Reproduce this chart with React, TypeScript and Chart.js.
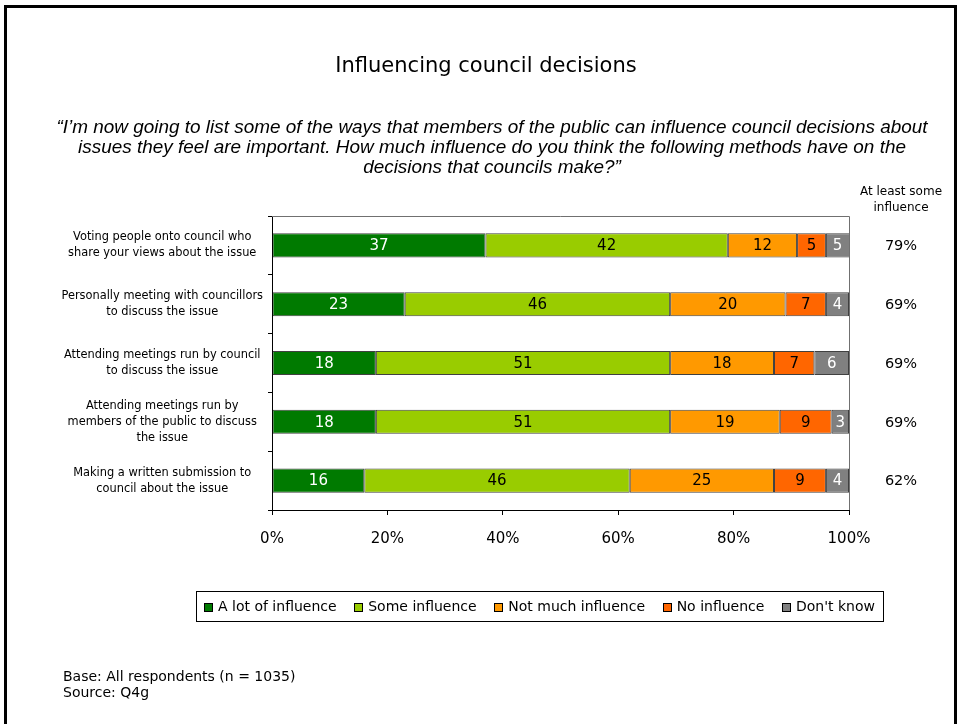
import React, { useEffect, useRef } from 'react';
import { Chart, registerables } from 'chart.js';

Chart.register(...registerables);

const chartTitle = 'Influencing council decisions';
const questionLines = [
  '\u201CI\u2019m now going to list some of the ways that members of the public can influence council decisions about',
  'issues they feel are important. How much influence do you think the following methods have on the',
  'decisions that councils make?\u201D',
];
const categories: string[][] = [
  ['Voting people onto council who', 'share your views about the issue'],
  ['Personally meeting with councillors', 'to discuss the issue'],
  ['Attending meetings run by council', 'to discuss the issue'],
  ['Attending meetings run by', 'members of the public to discuss', 'the issue'],
  ['Making a written submission to', 'council about the issue'],
];
const seriesNames = ['A lot of influence', 'Some influence', 'Not much influence', 'No influence', "Don't know"];
const aLotOfInfluence = [37, 23, 18, 18, 16];
const someInfluence = [42, 46, 51, 51, 46];
const notMuchInfluence = [12, 20, 18, 19, 25];
const noInfluence = [5, 7, 7, 9, 9];
const dontKnow = [5, 4, 6, 3, 4];
const atLeastSome = [79, 69, 69, 69, 62];
const atLeastHeader = ['At least some', 'influence'];
const xTickValues = [0, 20, 40, 60, 80, 100];
const footnotes = ['Base: All respondents (n = 1035)', 'Source: Q4g'];

const seriesColors = ['#007A00', '#99CC00', '#FF9900', '#FF6600', '#808080'];
const valueColors = ['#ffffff', '#000000', '#000000', '#000000', '#ffffff'];

const FONT = "'DejaVu Sans', Verdana, sans-serif";

const decorPlugin = {
  id: 'decor',
  afterDatasetsDraw(chart: any) {
    const ctx = chart.ctx as CanvasRenderingContext2D;
    const area = chart.chartArea;
    ctx.save();
    ctx.font = `15px ${FONT}`;
    ctx.textAlign = 'center';
    ctx.textBaseline = 'middle';
    chart.data.datasets.forEach((ds: any, i: number) => {
      const meta = chart.getDatasetMeta(i);
      meta.data.forEach((el: any, j: number) => {
        const p = el.getProps(['x', 'base', 'y'], true);
        const right = Math.min(p.x, area.right);
        const cx = (right + p.base) / 2;
        ctx.fillStyle = valueColors[i];
        ctx.fillText(String(ds.data[j]), cx, p.y + 1);
      });
    });
    ctx.restore();
  },
  afterDraw(chart: any) {
    const ctx = chart.ctx as CanvasRenderingContext2D;
    const area = chart.chartArea;
    ctx.save();

    // plot area top/right border
    ctx.strokeStyle = '#707070';
    ctx.lineWidth = 1;
    ctx.beginPath();
    ctx.moveTo(area.left, Math.round(area.top) + 0.5);
    ctx.lineTo(Math.round(area.right) + 0.5, Math.round(area.top) + 0.5);
    ctx.lineTo(Math.round(area.right) + 0.5, area.bottom);
    ctx.stroke();

    // frame
    ctx.strokeStyle = '#000';
    ctx.lineWidth = 3;
    ctx.strokeRect(5.5, 6.5, 950, 760);

    // title
    ctx.fillStyle = '#000';
    ctx.textAlign = 'center';
    ctx.textBaseline = 'middle';
    ctx.font = `21px ${FONT}`;
    ctx.fillText(chartTitle, 486, 67);

    // question (condensed italic)
    ctx.font = "italic 19px 'Liberation Sans', Arial, sans-serif";
    const w0 = ctx.measureText(questionLines[0]).width;
    const sx = 871 / w0;
    questionLines.forEach((line, k) => {
      ctx.save();
      ctx.translate(492, 128 + k * 20);
      ctx.scale(sx, 1);
      ctx.fillText(line, 0, 0);
      ctx.restore();
    });

    // at least some column
    const ys = chart.scales.y;
    ctx.font = `12px ${FONT}`;
    atLeastHeader.forEach((t, k) => ctx.fillText(t, 901, 192 + k * 16));
    ctx.font = `14.5px ${FONT}`;
    atLeastSome.forEach((v, j) => {
      ctx.fillText(`${v}%`, 901, ys.getPixelForValue(j) + 1);
    });

    // legend
    const lx0 = 196, ly0 = 591, lw = 687, lh = 30;
    ctx.lineWidth = 1;
    ctx.strokeStyle = '#000';
    ctx.strokeRect(lx0 + 0.5, ly0 + 0.5, lw, lh);
    ctx.font = `14px ${FONT}`;
    ctx.textAlign = 'left';
    const box = 9, gapBoxText = 5, inner = 8;
    const n = chart.data.datasets.length;
    const widths = chart.data.datasets.map((d: any) => ctx.measureText(d.label).width);
    const content = widths.reduce((a: number, b: number) => a + b, 0) + n * (box + gapBoxText);
    const gapItems = (lw - 2 * inner - content) / (n - 1);
    let x = lx0 + inner;
    const cy = ly0 + lh / 2 + 1;
    chart.data.datasets.forEach((d: any, i: number) => {
      ctx.fillStyle = d.backgroundColor;
      ctx.fillRect(Math.round(x), Math.round(cy - box / 2), box, box);
      ctx.strokeStyle = '#000';
      ctx.strokeRect(Math.round(x) + 0.5, Math.round(cy - box / 2) + 0.5, box - 1, box - 1);
      x += box + gapBoxText;
      ctx.fillStyle = '#000';
      ctx.fillText(d.label, x, cy);
      x += widths[i] + gapItems;
    });

    // footnotes
    ctx.font = `14px ${FONT}`;
    ctx.textAlign = 'left';
    footnotes.forEach((t, k) => ctx.fillText(t, 63, 677 + k * 16));

    ctx.restore();
  },
};

export default function App() {
  const ref = useRef<HTMLCanvasElement | null>(null);
  useEffect(() => {
    if (!ref.current) return;
    const series = [aLotOfInfluence, someInfluence, notMuchInfluence, noInfluence, dontKnow];
    const chart = new Chart(ref.current, {
      type: 'bar',
      data: {
        labels: categories,
        datasets: series.map((d, i) => ({
          label: seriesNames[i],
          data: d,
          backgroundColor: seriesColors[i],
          borderColor: 'rgba(0,0,0,0.75)',
          borderWidth: 1,
          borderSkipped: false,
          barPercentage: 0.41,
          categoryPercentage: 1,
        })),
      },
      options: {
        indexAxis: 'y',
        animation: false,
        responsive: false,
        devicePixelRatio: 1,
        layout: { padding: { left: 0, top: 216, right: 112, bottom: 174 } },
        plugins: {
          legend: { display: false },
          title: { display: false },
          tooltip: { enabled: false },
        },
        scales: {
          x: {
            stacked: true,
            min: 0,
            max: 100,
            afterBuildTicks: (s: any) => {
              s.ticks = xTickValues.map((v) => ({ value: v }));
            },
            afterFit: (s: any) => {
              s.height = 40;
            },
            ticks: {
              callback: (v: any) => `${v}%`,
              color: '#000',
              font: { family: FONT, size: 15 },
              padding: 15,
              maxRotation: 0,
            },
            grid: { drawOnChartArea: false, tickLength: 5, color: '#000' },
            border: { color: '#000', width: 1 },
          },
          y: {
            stacked: true,
            afterFit: (s: any) => {
              s.width = 272;
            },
            ticks: {
              color: '#000',
              crossAlign: 'center',
              padding: 5,
              font: { family: FONT, size: 11.4, lineHeight: 1.4 },
            },
            grid: { drawOnChartArea: false, offset: true, tickLength: 4, color: '#000' },
            border: { color: '#000', width: 1 },
          },
        },
      },
      plugins: [decorPlugin],
    } as any);
    return () => chart.destroy();
  }, []);
  return (
    <div style={{ position: 'fixed', left: 0, top: 0, width: 961, height: 724, background: '#fff' }}>
      <canvas ref={ref} width={961} height={724} style={{ display: 'block' }} />
    </div>
  );
}
